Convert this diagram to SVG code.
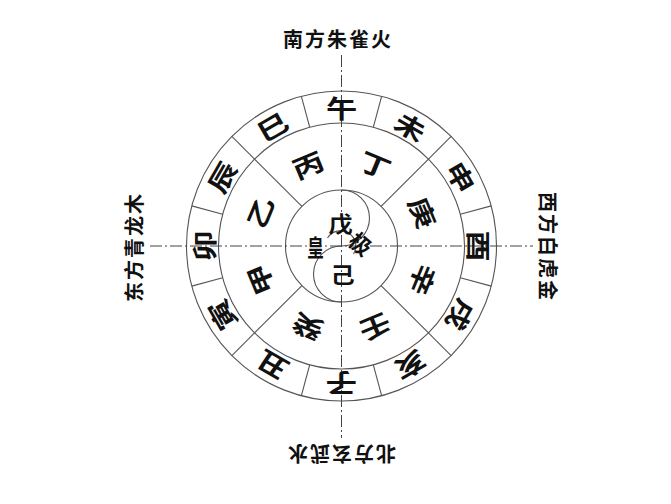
<svg xmlns="http://www.w3.org/2000/svg" width="671" height="504" viewBox="0 0 671 504">
<defs>
<style>
.ring{fill:none;stroke:#555;stroke-width:1.1}
.div{stroke:#555;stroke-width:1.1}
.axis{stroke:#444;stroke-width:1;stroke-dasharray:12 3 2 3}
.br{font-family:"Noto Sans CJK SC","Noto Sans CJK JP",sans-serif;font-size:25px;font-weight:700;fill:#111;text-anchor:middle;dominant-baseline:central}
.ct{font-family:"Noto Sans CJK SC","Noto Sans CJK JP",sans-serif;font-size:22px;font-weight:700;fill:#111;text-anchor:middle;dominant-baseline:central}
.dir{font-family:"Noto Sans CJK SC","Noto Sans CJK JP",sans-serif;font-size:20px;font-weight:700;fill:#111;text-anchor:middle;dominant-baseline:central;letter-spacing:2px}
</style>
</defs>
<rect width="671" height="504" fill="#fff"/>
<g id="rings" transform="translate(341.5,246)">
<circle class="ring" r="155"/>
<circle class="ring" r="123"/>
<circle class="ring" r="56"/>
<path class="ring" d="M0,-56 A28,28 0 0 1 0,0 A28,28 0 0 0 0,56"/>
<path class="ring" d="M-14,-8 A14,14 0 0 1 12,8"/>
</g>
<g id="connectors">
<g transform="translate(341.5,246)">
<g id="outer-dividers">
<line class="div" x1="0" y1="-123" x2="0" y2="-155" transform="rotate(15)"/>
<line class="div" x1="0" y1="-123" x2="0" y2="-155" transform="rotate(45)"/>
<line class="div" x1="0" y1="-123" x2="0" y2="-155" transform="rotate(75)"/>
<line class="div" x1="0" y1="-123" x2="0" y2="-155" transform="rotate(105)"/>
<line class="div" x1="0" y1="-123" x2="0" y2="-155" transform="rotate(135)"/>
<line class="div" x1="0" y1="-123" x2="0" y2="-155" transform="rotate(165)"/>
<line class="div" x1="0" y1="-123" x2="0" y2="-155" transform="rotate(195)"/>
<line class="div" x1="0" y1="-123" x2="0" y2="-155" transform="rotate(225)"/>
<line class="div" x1="0" y1="-123" x2="0" y2="-155" transform="rotate(255)"/>
<line class="div" x1="0" y1="-123" x2="0" y2="-155" transform="rotate(285)"/>
<line class="div" x1="0" y1="-123" x2="0" y2="-155" transform="rotate(315)"/>
<line class="div" x1="0" y1="-123" x2="0" y2="-155" transform="rotate(345)"/>
</g>
<g id="middle-dividers">
<line class="div" x1="0" y1="-56" x2="0" y2="-123" transform="rotate(45)"/>
<line class="div" x1="0" y1="-56" x2="0" y2="-123" transform="rotate(135)"/>
<line class="div" x1="0" y1="-56" x2="0" y2="-123" transform="rotate(225)"/>
<line class="div" x1="0" y1="-56" x2="0" y2="-123" transform="rotate(315)"/>
</g>
</g>
<line class="axis" x1="341.5" y1="55" x2="341.5" y2="438"/>
<line class="axis" x1="150" y1="246" x2="533" y2="246"/>
</g>
<g transform="translate(341.5,246)">
<g id="b-wu" transform="rotate(0) translate(0,-139) scale(1.25,1)"><text class="br">午</text></g>
<g id="b-wei" transform="rotate(30) translate(0,-139) scale(1.25,1)"><text class="br">未</text></g>
<g id="b-shen" transform="rotate(60) translate(0,-139) scale(1.25,1)"><text class="br">申</text></g>
<g id="b-you" transform="rotate(90) translate(0,-139) scale(1.25,1)"><text class="br">酉</text></g>
<g id="b-xu" transform="rotate(120) translate(0,-139) scale(1.25,1)"><text class="br">戌</text></g>
<g id="b-hai" transform="rotate(150) translate(0,-139) scale(1.25,1)"><text class="br">亥</text></g>
<g id="b-zi" transform="rotate(180) translate(0,-139) scale(1.25,1)"><text class="br">子</text></g>
<g id="b-chou" transform="rotate(210) translate(0,-139) scale(1.25,1)"><text class="br">丑</text></g>
<g id="b-yin" transform="rotate(240) translate(0,-139) scale(1.25,1)"><text class="br">寅</text></g>
<g id="b-mao" transform="rotate(270) translate(0,-139) scale(1.25,1)"><text class="br">卯</text></g>
<g id="b-chen" transform="rotate(300) translate(0,-139) scale(1.25,1)"><text class="br">辰</text></g>
<g id="b-si" transform="rotate(330) translate(0,-139) scale(1.25,1)"><text class="br">巳</text></g>
<g id="s-ding" transform="rotate(22.5) translate(0,-89) scale(1.25,1)"><text class="br">丁</text></g>
<g id="s-geng" transform="rotate(67.5) translate(0,-89) scale(1.25,1)"><text class="br">庚</text></g>
<g id="s-xin" transform="rotate(112.5) translate(0,-89) scale(1.25,1)"><text class="br">辛</text></g>
<g id="s-ren" transform="rotate(157.5) translate(0,-89) scale(1.25,1)"><text class="br">壬</text></g>
<g id="s-gui" transform="rotate(202.5) translate(0,-89) scale(1.25,1)"><text class="br">癸</text></g>
<g id="s-jia" transform="rotate(247.5) translate(0,-89) scale(1.25,1)"><text class="br">甲</text></g>
<g id="s-yi" transform="rotate(292.5) translate(0,-89) scale(1.25,1)"><text class="br">乙</text></g>
<g id="s-bing" transform="rotate(337.5) translate(0,-89) scale(1.25,1)"><text class="br">丙</text></g>
<g id="c-wu" transform="translate(-1,-24) scale(1.1,1)"><text class="ct">戊</text></g>
<g id="c-ji" transform="translate(1,27) scale(1.1,1)"><text class="ct">己</text></g>
<g id="c-huang" transform="translate(-26,0) scale(0.75,1.05)"><text class="ct">皇</text></g>
<g id="c-ji2" transform="translate(20,-3) rotate(40)"><text class="ct">极</text></g>
</g>
<g id="dir-south"><text class="dir" x="338" y="38">南方朱雀火</text></g>
<g id="dir-north" transform="translate(341,454) rotate(180)"><text class="dir" x="0" y="0">北方玄武水</text></g>
<g id="dir-east" transform="translate(133,247) rotate(-90)"><text class="dir" x="0" y="0">东方青龙木</text></g>
<g id="dir-west" transform="translate(548,247) rotate(90)"><text class="dir" x="0" y="0">西方白虎金</text></g>
</svg>
